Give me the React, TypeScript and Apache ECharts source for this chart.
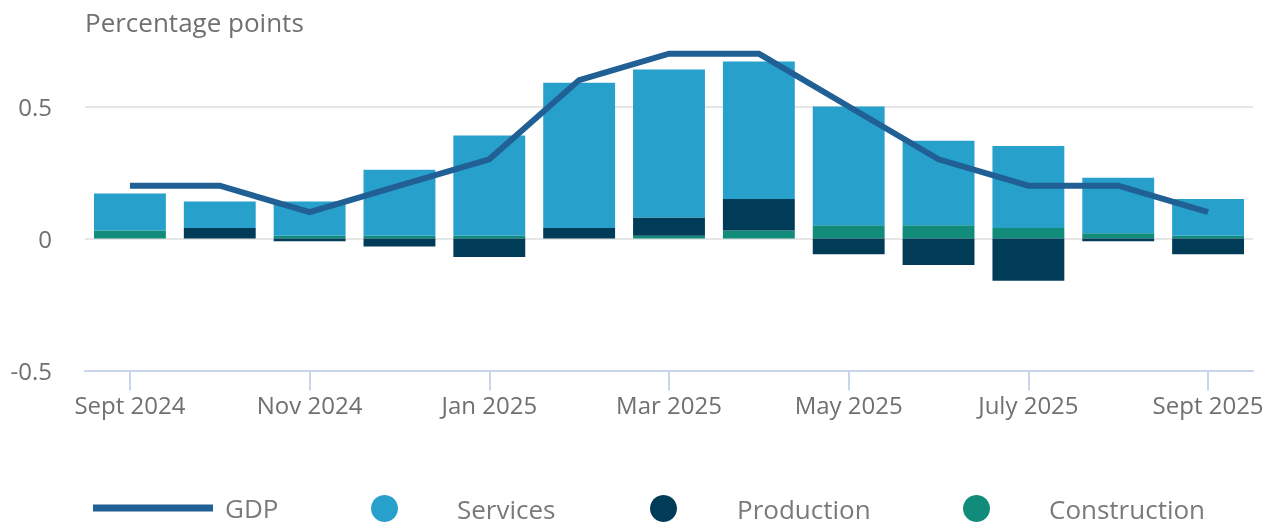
import React, { useEffect, useRef } from "react";
import * as echarts from "echarts";

const months = [
  "Sept 2024", "Oct 2024", "Nov 2024", "Dec 2024", "Jan 2025", "Feb 2025", "Mar 2025",
  "Apr 2025", "May 2025", "June 2025", "July 2025", "Aug 2025", "Sept 2025",
];
const gdp = [0.2, 0.2, 0.1, 0.2, 0.3, 0.6, 0.7, 0.7, 0.5, 0.3, 0.2, 0.2, 0.1];
const services = [0.14, 0.1, 0.13, 0.25, 0.38, 0.55, 0.56, 0.52, 0.45, 0.32, 0.31, 0.21, 0.14];
const production = [0, 0.04, -0.01, -0.03, -0.07, 0.04, 0.07, 0.12, -0.06, -0.1, -0.16, -0.01, -0.06];
const construction = [0.03, 0, 0.01, 0.01, 0.01, 0, 0.01, 0.03, 0.05, 0.05, 0.04, 0.02, 0.01];
const yTicks = [-0.5, 0, 0.5];

const FONT = "'Open Sans', 'Noto Sans', sans-serif";
const LEGEND_TOP = 495;

const legendText = (padLeft: number) => ({
  fontFamily: FONT,
  fontSize: 26,
  color: "#7a7a7a",
  padding: [0, 0, 0, padLeft],
});

export default function App() {
  const ref = useRef<HTMLDivElement>(null);
  useEffect(() => {
    if (!ref.current) return;
    const chart = echarts.init(ref.current, undefined, { renderer: "svg" });
    chart.setOption({
      animation: false,
      textStyle: { fontFamily: FONT },
      title: {
        text: "Percentage points",
        left: 80,
        top: 4,
        textStyle: { fontFamily: FONT, fontSize: 26, fontWeight: "normal", color: "#707070" },
      },
      legend: [
        {
          left: 93, top: LEGEND_TOP, padding: 0, itemWidth: 120, itemHeight: 27,
          symbolKeepAspect: true, textStyle: legendText(7),
          data: [{ name: "GDP", icon: "path://M0 0H120V7H0Z" }],
        },
        {
          left: 371, top: LEGEND_TOP, padding: 0, itemWidth: 27, itemHeight: 27,
          textStyle: legendText(54),
          data: [{ name: "Services", icon: "circle" }],
        },
        {
          left: 650, top: LEGEND_TOP, padding: 0, itemWidth: 27, itemHeight: 27,
          textStyle: legendText(55),
          data: [{ name: "Production", icon: "circle" }],
        },
        {
          left: 963, top: LEGEND_TOP, padding: 0, itemWidth: 27, itemHeight: 27,
          textStyle: legendText(54),
          data: [{ name: "Construction", icon: "circle" }],
        },
      ],
      grid: { left: 85, right: 21, top: 40.5, bottom: 154.5, containLabel: false },
      xAxis: {
        type: "category",
        data: months,
        boundaryGap: true,
        axisLine: { show: true, onZero: false, lineStyle: { color: "#c9d5ea", width: 2 } },
        axisTick: { show: true, alignWithLabel: true, interval: 1, length: 20, lineStyle: { color: "#c9d5ea", width: 2 } },
        axisLabel: { interval: 1, margin: 22, fontSize: 24, color: "#707070", fontFamily: FONT },
        splitLine: { show: false },
      },
      yAxis: {
        type: "value",
        min: -0.5,
        max: 0.75,
        interval: 0.5,
        axisLine: { show: false },
        axisTick: { show: false },
        axisLabel: {
          margin: 33,
          fontSize: 24,
          color: "#707070",
          fontFamily: FONT,
          showMaxLabel: false,
          formatter: (v: number) => (yTicks.includes(v) ? String(v) : ""),
        },
        splitLine: { show: true, showMinLine: false, showMaxLine: false, lineStyle: { color: "#e6e6e6", width: 2 } },
      },
      series: [
        {
          name: "Construction",
          type: "bar",
          stack: "total",
          barWidth: "80%",
          itemStyle: { color: "#118c7b" },
          data: construction,
        },
        {
          name: "Production",
          type: "bar",
          stack: "total",
          barWidth: "80%",
          itemStyle: { color: "#003c57" },
          data: production,
        },
        {
          name: "Services",
          type: "bar",
          stack: "total",
          barWidth: "80%",
          itemStyle: { color: "#27a0cc" },
          data: services,
        },
        {
          name: "GDP",
          type: "line",
          z: 5,
          symbol: "none",
          lineStyle: { color: "#206095", width: 6, cap: "butt", join: "miter" },
          itemStyle: { color: "#206095" },
          data: gdp,
        },
      ],
    });
    return () => chart.dispose();
  }, []);
  return (
    <div
      ref={ref}
      style={{ position: "fixed", left: 0, top: 0, width: 1274, height: 525 }}
    />
  );
}
